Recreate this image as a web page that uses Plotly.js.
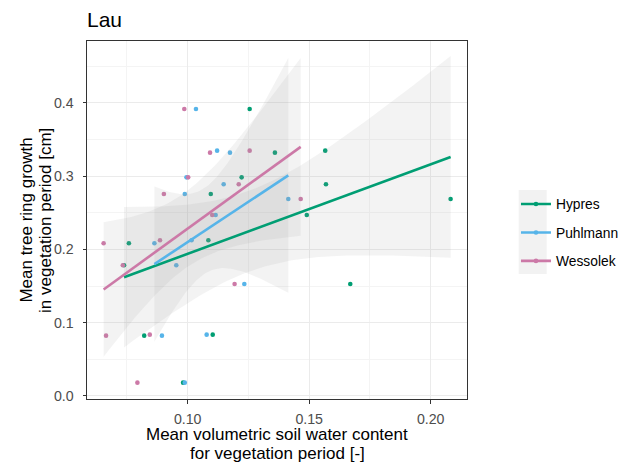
<!DOCTYPE html>
<html><head><meta charset="utf-8">
<script src="https://cdn.plot.ly/plotly-3.0.1.min.js"></script>
<style>html,body{margin:0;padding:0;background:#fff}#chart{width:623px;height:465px}</style>
</head><body><div id="chart"></div>
<script>
// ---- data ----
const seriesNames = ["Hypres", "Puhlmann", "Wessolek"];
const seriesColors = ["#009E73", "#56B4E9", "#CC79A7"];
// mean tree ring growth in vegetation period [cm] (same years for every soil model)
const growth = [0.3915, 0.3347, 0.3320, 0.2983, 0.2888, 0.2756, 0.2688, 0.2470, 0.2124, 0.2083, 0.1783, 0.1528, 0.0837, 0.0823, 0.0182];
// mean volumetric soil water content for each model
const swcHypres   = [0.1255, 0.1566, 0.1359, 0.1222, 0.1569, 0.1095, 0.2082, 0.1490, 0.1085, 0.0758, 0.0738, 0.1669, 0.1103, 0.0821, 0.0981];
const swcPuhlmann = [0.1034, 0.1121, 0.1174, 0.0995, 0.1148, 0.0988, 0.1414, 0.1115, 0.1016, 0.0863, 0.0953, 0.1233, 0.1078, 0.0894, 0.0988];
const swcWessolek = [0.0986, 0.1255, 0.1092, 0.1002, 0.1210, 0.0902, 0.1465, 0.1101, 0.0886, 0.0654, 0.0733, 0.1193, 0.0844, 0.0664, 0.0793];
const xTickVals = [0.10, 0.15, 0.20];
const xTickText = ["0.10", "0.15", "0.20"];
const yTickVals = [0.0, 0.1, 0.2, 0.3, 0.4];
const yTickText = ["0.0", "0.1", "0.2", "0.3", "0.4"];

const swcBySeries = [swcHypres, swcPuhlmann, swcWessolek];

// linear model with 95% confidence band (like geom_smooth(method = "lm"))
function lmBand(x, y, nOut) {
  const n = x.length;
  const xbar = x.reduce((a, b) => a + b, 0) / n;
  const ybar = y.reduce((a, b) => a + b, 0) / n;
  let sxx = 0, sxy = 0;
  for (let i = 0; i < n; i++) { sxx += (x[i] - xbar) ** 2; sxy += (x[i] - xbar) * (y[i] - ybar); }
  const b = sxy / sxx, a = ybar - b * xbar;
  let sse = 0;
  for (let i = 0; i < n; i++) sse += (y[i] - a - b * x[i]) ** 2;
  const s = Math.sqrt(sse / (n - 2));
  const tq = 2.160369; // qt(0.975, df = 13)
  const xmin = Math.min(...x), xmax = Math.max(...x);
  const xs = [], fit = [], lo = [], hi = [];
  for (let k = 0; k < nOut; k++) {
    const x0 = xmin + (xmax - xmin) * k / (nOut - 1);
    const f = a + b * x0;
    const se = s * Math.sqrt(1 / n + (x0 - xbar) ** 2 / sxx);
    xs.push(x0); fit.push(f); lo.push(f - tq * se); hi.push(f + tq * se);
  }
  return { xs, fit, lo, hi };
}

const FONT = '"Liberation Sans", Arial, sans-serif';
const traces = [];
const bands = swcBySeries.map(x => lmBand(x, growth, 80));

// points
seriesNames.forEach((name, i) => {
  traces.push({
    type: 'scatter', mode: 'markers', x: swcBySeries[i], y: growth, name: name,
    marker: { color: seriesColors[i], size: 4.6 }, showlegend: false, hoverinfo: 'x+y'
  });
});
// confidence ribbons
seriesNames.forEach((name, i) => {
  const bd = bands[i];
  traces.push({
    type: 'scatter', mode: 'lines', x: bd.xs.concat(bd.xs.slice().reverse()),
    y: bd.hi.concat(bd.lo.slice().reverse()), fill: 'toself',
    fillcolor: 'rgba(153,153,153,0.12)', line: { width: 0 }, showlegend: false, hoverinfo: 'skip'
  });
});
// fitted lines
seriesNames.forEach((name, i) => {
  const bd = bands[i];
  traces.push({
    type: 'scatter', mode: 'lines', x: bd.xs, y: bd.fit, name: name,
    line: { color: seriesColors[i], width: 2.6 }, showlegend: false, hoverinfo: 'skip'
  });
});
// legend entries (no data, legend only)
seriesNames.forEach((name, i) => {
  traces.push({
    type: 'scatter', mode: 'lines+markers', x: [null], y: [null], name: name,
    legendgroup: name, line: { color: seriesColors[i], width: 2.6 },
    marker: { color: seriesColors[i], size: 4.6 }, showlegend: true
  });
});

const TFS = 17; // axis title font size
const fromBase = TFS * 0.3465; // baseline -> text box centre
const layout = {
  width: 623, height: 465,
  margin: { l: 87, r: 156, t: 41, b: 66, pad: 0, autoexpand: false },
  paper_bgcolor: '#ffffff', plot_bgcolor: '#ffffff',
  font: { family: FONT, color: '#000000' },
  title: { text: 'Lau', font: { family: FONT, size: 21, color: '#000000' },
           x: 0, xref: 'paper', xanchor: 'left', y: 0.9575, yref: 'container', yanchor: 'middle' },
  showlegend: true,
  legend: { x: 1.1289, xanchor: 'left', y: 0.465, yanchor: 'middle', bgcolor: 'rgba(0,0,0,0)',
            font: { family: FONT, size: 13.8, color: '#000000' }, tracegroupgap: 7.5, itemwidth: 30 },
  xaxis: {
    range: [0.05856, 0.21494], tickvals: xTickVals, ticktext: xTickText,
    showgrid: true, gridcolor: '#ebebeb', gridwidth: 1, zeroline: false,
    minor: { dtick: 0.025, tick0: 0.075, showgrid: true, gridcolor: '#f4f4f4', gridwidth: 1, ticks: '' },
    ticks: 'outside', ticklen: 3.5, tickwidth: 1, tickcolor: '#333333', ticklabelstandoff: 3,
    tickfont: { family: FONT, size: 14.2, color: '#4d4d4d' },
    showline: true, mirror: true, linecolor: '#333333', linewidth: 1
  },
  yaxis: {
    range: [-0.0041, 0.4843], tickvals: yTickVals, ticktext: yTickText,
    showgrid: true, gridcolor: '#ebebeb', gridwidth: 1, zeroline: false,
    minor: { dtick: 0.05, tick0: 0.05, showgrid: true, gridcolor: '#f4f4f4', gridwidth: 1, ticks: '' },
    ticks: 'outside', ticklen: 3.5, tickwidth: 1, tickcolor: '#333333', ticklabelstandoff: 6,
    tickfont: { family: FONT, size: 14.2, color: '#4d4d4d' },
    showline: true, mirror: true, linecolor: '#333333', linewidth: 1
  },
  shapes: [
    { type: 'rect', xref: 'paper', yref: 'paper', x0: 1.136, x1: 1.2097, y0: 0.349, y1: 0.5838,
      fillcolor: '#f2f2f2', line: { width: 0 }, layer: 'below' }
  ],
  annotations: [
    { text: 'Mean volumetric soil water content', xref: 'paper', yref: 'paper', x: 0.5, y: (399 - (440.5 - fromBase)) / 358,
      xanchor: 'center', yanchor: 'middle', showarrow: false, font: { family: FONT, size: TFS, color: '#000' } },
    { text: 'for vegetation period [-]', xref: 'paper', yref: 'paper', x: 0.5, y: (399 - (459.8 - fromBase)) / 358,
      xanchor: 'center', yanchor: 'middle', showarrow: false, font: { family: FONT, size: TFS, color: '#000' } },
    { text: 'Mean tree ring growth', xref: 'paper', yref: 'paper', x: ((31.5 - fromBase) - 87) / 380, y: 0.5,
      xanchor: 'center', yanchor: 'middle', textangle: -90, showarrow: false, font: { family: FONT, size: TFS, color: '#000' } },
    { text: 'in vegetation period [cm]', xref: 'paper', yref: 'paper', x: ((50.8 - fromBase) - 87) / 380, y: 0.5,
      xanchor: 'center', yanchor: 'middle', textangle: -90, showarrow: false, font: { family: FONT, size: TFS, color: '#000' } }
  ]
};

Plotly.newPlot('chart', traces, layout, { displayModeBar: false, staticPlot: true });
</script>
</body></html>
